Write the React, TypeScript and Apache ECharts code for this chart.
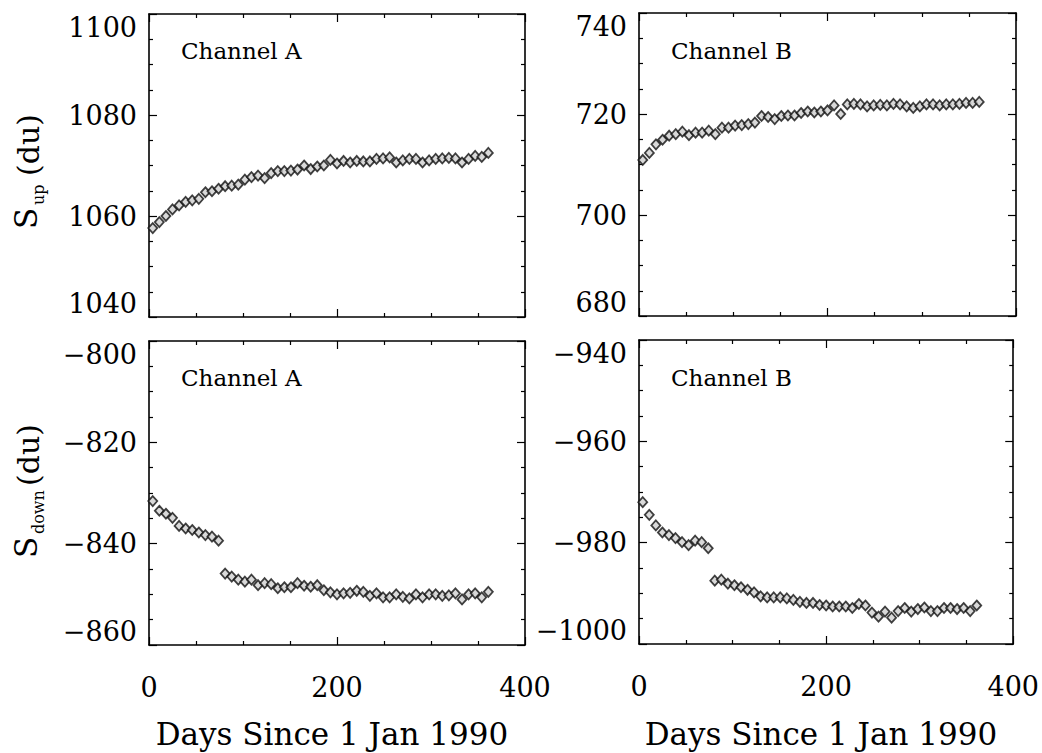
import React, { useEffect, useRef } from "react";
import * as echarts from "echarts";

// Days since 1 Jan 1990 (weekly samples)
const days = [4, 11, 18, 25, 32, 39, 46, 53, 60, 67, 74, 81, 88, 95, 102, 109, 116, 123, 130, 137, 144, 151, 158, 165, 172, 179, 186, 193, 200, 207, 214, 221, 228, 235, 242, 249, 256, 263, 270, 277, 284, 291, 298, 305, 312, 319, 326, 333, 340, 347, 354, 361];

const supA = [1057.6, 1058.8, 1060.0, 1061.3, 1062.1, 1062.8, 1063.1, 1063.4, 1064.7, 1064.9,
  1065.4, 1065.9, 1066.0, 1066.2, 1067.2, 1067.7, 1068.0, 1067.5, 1068.5, 1068.9,
  1068.9, 1069.0, 1069.2, 1070.0, 1069.3, 1069.8, 1070.0, 1071.1, 1070.4, 1070.9,
  1070.6, 1070.9, 1070.8, 1070.8, 1071.3, 1071.4, 1071.6, 1070.6, 1071.0, 1071.3,
  1071.3, 1070.6, 1071.0, 1071.3, 1071.4, 1071.5, 1071.4, 1070.6, 1071.3, 1071.9,
  1071.7, 1072.5];

const supB = [710.9, 712.3, 714.0, 714.9, 715.7, 716.0, 716.5, 715.8, 716.3, 716.3,
  716.7, 716.0, 717.3, 717.3, 717.7, 717.8, 718.0, 718.3, 719.6, 719.4,
  719.0, 719.6, 719.7, 719.7, 720.2, 720.5, 720.3, 720.5, 720.7, 721.7,
  720.0, 721.9, 722.0, 721.9, 721.5, 721.7, 721.8, 721.7, 722.0, 721.9,
  721.5, 721.2, 721.5, 721.9, 721.9, 721.7, 721.9, 721.9, 722.0, 722.2,
  722.2, 722.4];

const sdownA = [-831.6, -833.5, -834.1, -834.9, -836.5, -837.0, -837.3, -837.8, -838.3, -838.6,
  -839.4, -845.9, -846.5, -847.1, -847.5, -847.1, -848.2, -847.8, -848.0, -848.8,
  -848.6, -848.6, -847.8, -848.3, -848.5, -848.2, -849.2, -849.6, -850.0, -849.8,
  -849.7, -849.3, -849.5, -850.3, -849.8, -850.6, -850.6, -850.0, -850.5, -850.8,
  -850.0, -850.6, -850.0, -850.0, -850.3, -850.2, -849.8, -851.0, -850.0, -849.8,
  -850.6, -849.5];

const sdownB = [-972.0, -974.5, -976.6, -978.0, -978.5, -979.1, -979.9, -980.5, -979.6, -979.9,
  -981.1, -987.5, -987.3, -988.1, -988.4, -988.8, -989.3, -989.8, -990.6, -990.8,
  -990.8, -990.8, -991.0, -991.3, -991.7, -991.9, -991.9, -992.3, -992.4, -992.6,
  -992.6, -992.6, -992.9, -992.1, -992.4, -993.8, -994.6, -993.6, -994.8, -993.5,
  -992.9, -993.6, -993.1, -992.8, -993.5, -993.5, -992.9, -992.9, -993.1, -992.9,
  -993.5, -992.4];

const yRanges = [
  [1040, 1100],
  [680, 740],
  [-860, -800],
  [-1000, -940],
];
const channelLabels = ["Channel A", "Channel B", "Channel A", "Channel B"];
const xTitle = "Days Since 1 Jan 1990";

const FONT = "'DejaVu Serif', serif";

const fmt = (v: number) => String(v).replace("-", "\u2212");

export default function App() {
  const ref = useRef<HTMLDivElement>(null);
  useEffect(() => {
    if (!ref.current) return;
    const chart = echarts.init(ref.current, null, { renderer: "svg" });
    const layout = [
      { left: 149, top: 14, width: 376, height: 303 },
      { left: 639, top: 13, width: 377, height: 303 },
      { left: 149, top: 341, width: 376, height: 304 },
      { left: 639, top: 340, width: 377, height: 304 },
    ];
    const series = [supA, supB, sdownA, sdownB];
    const lineStyle = { color: "#000", width: 1.6 };
    const tick = { show: true, inside: true, length: 8, lineStyle: { color: "#000", width: 1.2 } };
    const minor = { show: true, splitNumber: 4, length: 4, lineStyle: { color: "#000", width: 1.2 } };

    const xAxis: any[] = [];
    const yAxis: any[] = [];
    layout.forEach((g, i) => {
      const isBottom = i >= 2;
      xAxis.push({
        type: "value", gridIndex: i, position: "bottom", min: 0, max: 400, interval: 200,
        axisLine: { show: true, onZero: false, lineStyle },
        axisTick: tick, minorTick: minor, splitLine: { show: false },
        axisLabel: {
          show: isBottom, fontFamily: FONT, fontSize: 27, color: "#000", margin: 29,
          formatter: fmt,
        },
      });
      xAxis.push({
        type: "value", gridIndex: i, position: "top", min: 0, max: 400, interval: 200,
        axisLine: { show: true, onZero: false, lineStyle },
        axisTick: tick, minorTick: minor, splitLine: { show: false },
        axisLabel: { show: false },
      });
      yAxis.push({
        type: "value", gridIndex: i, position: "left", min: yRanges[i][0], max: yRanges[i][1], interval: 20,
        axisLine: { show: true, onZero: false, lineStyle },
        axisTick: tick, minorTick: minor, splitLine: { show: false },
        axisLabel: {
          show: true, fontFamily: FONT, fontSize: 27, color: "#000", margin: 12,
          formatter: fmt,
          verticalAlignMaxLabel: "top", verticalAlignMinLabel: "bottom",
        },
      });
      yAxis.push({
        type: "value", gridIndex: i, position: "right", min: yRanges[i][0], max: yRanges[i][1], interval: 20,
        axisLine: { show: true, onZero: false, lineStyle },
        axisTick: tick, minorTick: minor, splitLine: { show: false },
        axisLabel: { show: false },
      });
    });

    const txt = (text: string, x: number, y: number, size: number, rot = 0, align = "left") => ({
      type: "text", x, y, rotation: rot, silent: true,
      style: {
        text, fontFamily: FONT, fontSize: size, fill: "#000",
        align, textAlign: align, verticalAlign: "middle", textVerticalAlign: "middle",
      },
    });
    const R = Math.PI / 2;
    const graphic: any[] = [
      txt(channelLabels[0], 181, 51, 23),
      txt(channelLabels[1], 671, 51, 23),
      txt(channelLabels[2], 181, 378, 23),
      txt(channelLabels[3], 671, 378, 23),
      txt(xTitle, 332, 734, 31, 0, "center"),
      txt(xTitle, 821, 734, 31, 0, "center"),
      // S_up (du)
      txt("S", 26, 229, 31, R),
      txt("up", 38, 205, 16, R),
      txt("(du)", 28, 176, 30, R),
      // S_down (du)
      txt("S", 26, 558, 31, R),
      txt("down", 38, 534, 16, R),
      txt("(du)", 28, 486, 30, R),
    ];

    chart.setOption({
      animation: false,
      backgroundColor: "#fff",
      grid: layout.map((g) => ({ ...g, containLabel: false })),
      xAxis,
      yAxis,
      graphic,
      series: series.map((vals, i) => ({
        type: "scatter",
        xAxisIndex: 2 * i,
        yAxisIndex: 2 * i,
        symbol: "diamond",
        symbolSize: [9, 10],
        itemStyle: { color: "#d0d0d0", borderColor: "#111", borderWidth: 1.8 },
        data: days.map((d, k) => [d, vals[k]]),
      })),
    });
    return () => chart.dispose();
  }, []);
  return (
    <div
      ref={ref}
      style={{ position: "fixed", left: 0, top: 0, width: 1042, height: 753, background: "#fff" }}
    />
  );
}
